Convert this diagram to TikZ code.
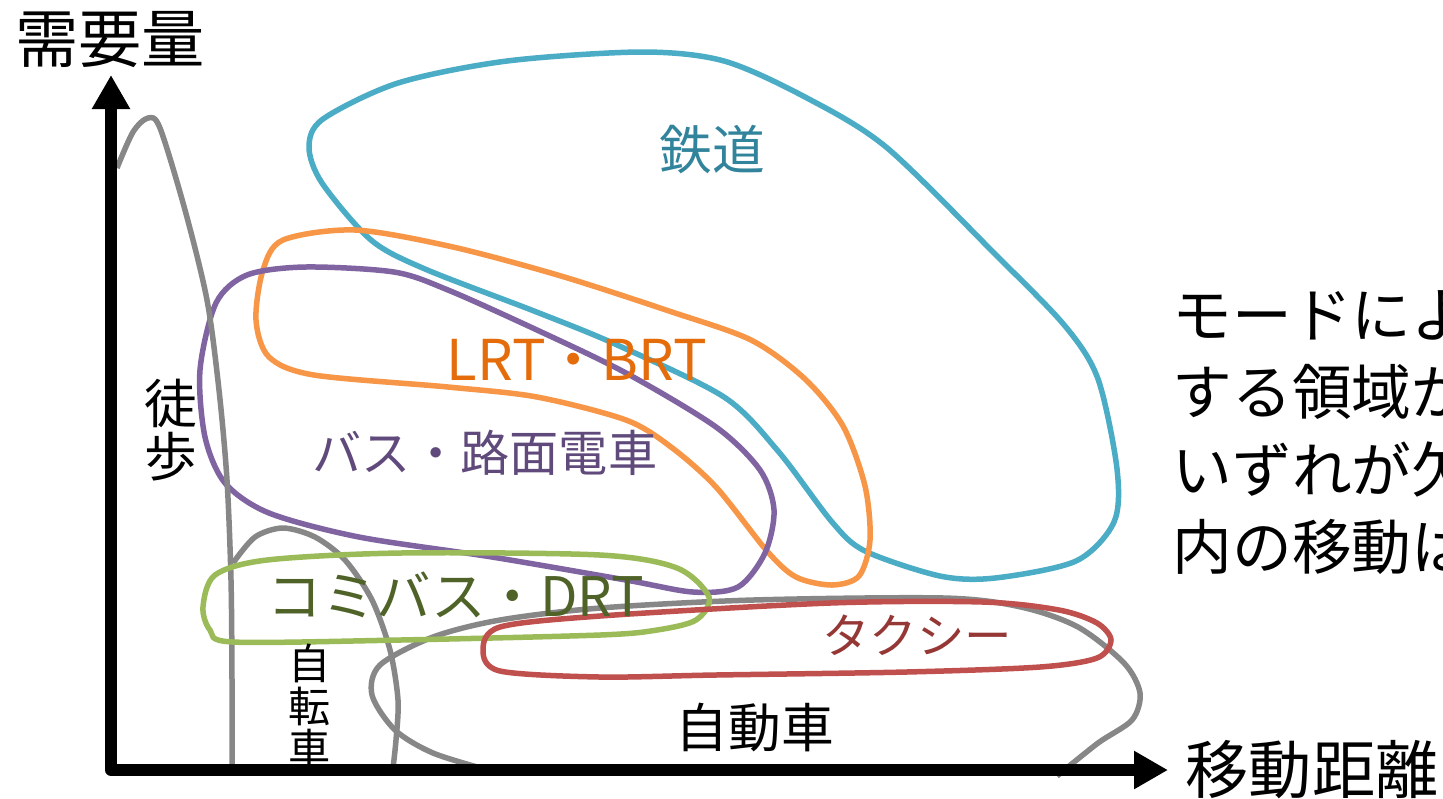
\documentclass[tikz,border=0pt]{standalone}
\usepackage{fontspec}
\setmainfont{Noto Sans CJK JP}
\usetikzlibrary{arrows.meta}
\definecolor{railc}{HTML}{4BACC6}
\definecolor{railt}{HTML}{31849B}
\definecolor{lrtc}{HTML}{F79646}
\definecolor{lrtt}{HTML}{E46C0A}
\definecolor{busc}{HTML}{8064A2}
\definecolor{bust}{HTML}{604A7B}
\definecolor{comc}{HTML}{9BBB59}
\definecolor{comt}{HTML}{4F6228}
\definecolor{taxic}{HTML}{C0504D}
\definecolor{taxit}{HTML}{953735}
\definecolor{grayc}{HTML}{878787}
\newcommand{\fsz}[1]{\fontsize{#1pt}{#1pt}\selectfont}
\begin{document}
\begin{tikzpicture}[x=0.1mm,y=-0.1mm,
  mode/.style={line width=0.55mm},
  axis/.style={line width=1.2mm,line join=round,{Triangle[length=3.4mm,width=3.6mm]}-{Triangle[length=3.4mm,width=3.6mm]}},
  lbl/.style={inner sep=0pt}]
\useasboundingbox (0,0) rectangle (1443,798);
\fill[white] (0,0) rectangle (1443,798);
\clip (0,0) rectangle (1443,798);
\draw[mode,railc] plot[smooth cycle] coordinates {(642,52) (507,61) (398,83) (323,119) (309,147) (322,183) (371,240) (425,269) (534,311) (615,344) (724,397) (778,451) (832,522) (865,551) (940,576) (995,578) (1076,561) (1114,522) (1117,469) (1098,379) (1065,326) (995,254) (886,147) (805,97) (724,61)};
\draw[mode,lrtc] plot[smooth cycle] coordinates {(355,230) (283,240) (263,270) (256,320) (269,357) (314,375) (448,387) (537,397) (626,420) (671,447) (716,487) (767,551) (796,577) (832,585) (859,576) (870,540) (865,486) (843,426) (805,379) (751,340) (669,311) (561,276) (453,247)};
\draw[mode,busc] plot[smooth cycle] coordinates {(305,267) (247,275) (216,303) (200,370) (205,437) (225,483) (269,513) (359,537) (492,557) (626,580) (693,592) (738,587) (765,553) (774,510) (760,470) (716,427) (626,373) (537,330) (448,290) (394,272)};
\draw[mode,grayc] plot[smooth] coordinates {(117,168) (133,132) (148,118) (160,128) (185,210) (207,300) (219,390) (227,480) (231,580) (232,680) (232,766)};
\draw[mode,grayc] plot[smooth] coordinates {(233,563) (255,537) (283,528) (315,537) (345,560) (372,600) (390,650) (398,700) (396,740) (393,768)};
\draw[mode,grayc] plot[smooth] coordinates {(488,770) (433,753) (395,730) (372,695) (380,665) (433,637) (500,620) (600,608) (753,600) (944,598) (1021,607) (1078,627) (1124,663) (1140,693) (1132,720) (1098,743) (1057,776)};
\draw[mode,comc] plot[smooth cycle] coordinates {(203,607) (215,575) (267,560) (400,553) (600,555) (677,568) (709,597) (696,620) (657,630) (600,635) (400,640) (233,642) (210,630)};
\draw[mode,taxic] plot[smooth cycle] coordinates {(483,650) (500,627) (600,616) (830,603) (983,602) (1059,610) (1097,623) (1111,640) (1097,658) (1040,667) (906,672) (715,675) (600,677) (500,671)};
\coordinate (O) at (111,770);
\coordinate (ytop) at (111,75);
\coordinate (xend) at (1168,770);
\draw[axis] (ytop) -- (O) -- (xend);
\node[lbl,font=\fsz{18}] (demand) at (110,40) {需要量};
\node[lbl,font=\fsz{18},anchor=west] (dist) at (1185,770) {移動距離};
\node[lbl,font=\fsz{15},text=railt] (rail) at (712,150) {鉄道};
\node[lbl,font=\fsz{16},text=lrtt] (lrt) at (577,360) {LRT・BRT};
\node[lbl,font=\fsz{14},text=bust] (bus) at (485,453) {バス・路面電車};
\node[lbl,font=\fsz{15.5},text=comt] (com) at (456,595) {コミバス・DRT};
\node[lbl,font=\fsz{13.5},text=taxit] (taxi) at (917,635) {タクシー};
\node[lbl,font=\fsz{15}] (car) at (755,728) {自動車};
\node[lbl,font=\fsz{15},align=center] (walk) at (171,430) {徒\\歩};
\node[lbl,font=\fsz{12},align=center] (bike) at (310,706) {自\\転\\車};
\node[lbl,font={\fontsize{17pt}{22pt}\selectfont},align=left,anchor=north west] (note) at (1172,290) {モードによ\\する領域が\\いずれが欠\\内の移動は};
\end{tikzpicture}
\end{document}
